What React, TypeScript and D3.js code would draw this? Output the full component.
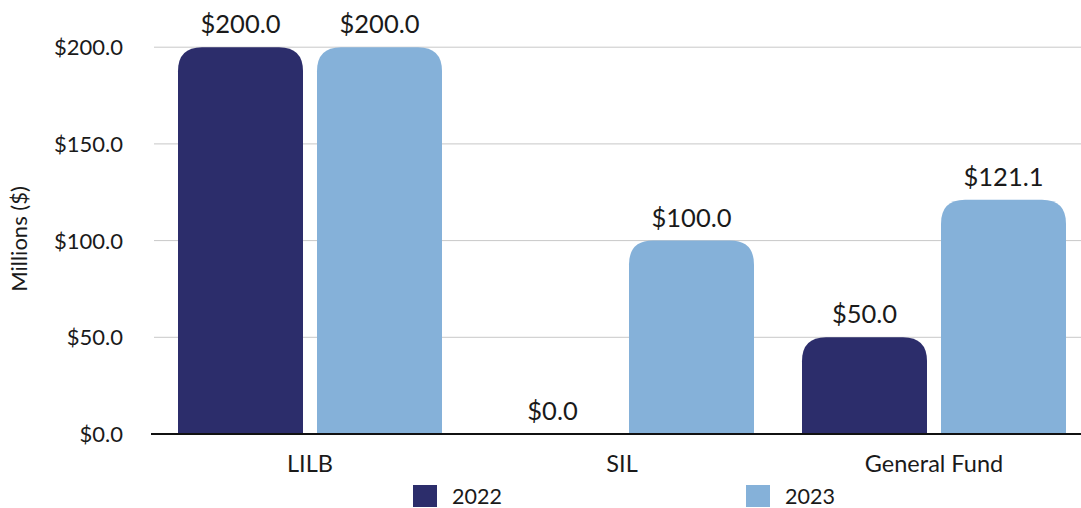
import React from "react";
import * as d3 from "d3";

const categories = ["LILB", "SIL", "General Fund"];
const seriesNames = ["2022", "2023"];
const values2022 = [200.0, 0.0, 50.0];
const values2023 = [200.0, 100.0, 121.1];
const yTicks = [0, 50, 100, 150, 200];
const colors = ["#2c2d6b", "#85b1d9"];

const W = 1081;
const H = 508;
const FONT = "Lato, 'Noto Sans', sans-serif";
const TXT = "#1a1a1a";

export default function App() {
  const y = d3.scaleLinear().domain([0, 200]).range([434, 47.2]);
  const x0 = d3.scaleBand<string>().domain(categories).range([154, 1090]).padding(0);
  const x1 = d3
    .scaleBand<string>()
    .domain(seriesNames)
    .range([24, x0.bandwidth() - 24])
    .paddingInner(14 / 139)
    .paddingOuter(0);
  const series = [values2022, values2023];
  const fmt = (v: number) => "$" + d3.format(".1f")(v);

  const barPath = (x: number, w: number, top: number, bottom: number) => {
    const h = bottom - top;
    if (h <= 0) return "";
    const r = Math.min(24, w / 2, h);
    return `M${x},${bottom}L${x},${top + r}Q${x},${top} ${x + r},${top}L${x + w - r},${top}Q${x + w},${top} ${x + w},${top + r}L${x + w},${bottom}Z`;
  };

  return (
    <div style={{ position: "absolute", left: 0, top: 0, width: W, height: H, background: "#fff" }}>
      <svg width={W} height={H} style={{ display: "block" }} fontFamily={FONT} fontWeight={400}>
        {yTicks.map((t) =>
          t === 0 ? null : (
            <line key={"g" + t} x1={154} x2={W} y1={y(t)} y2={y(t)} stroke="#c8c8c8" strokeWidth={1} />
          )
        )}
        {yTicks.map((t) => (
          <text key={"t" + t} x={123} y={y(t)} dy="0.36em" textAnchor="end" fontSize={22} fill={TXT}>
            {fmt(t)}
          </text>
        ))}
        <text
          transform={`translate(27,${239}) rotate(-90)`}
          textAnchor="middle"
          fontSize={22}
          fill={TXT}
        >
          Millions ($)
        </text>
        {categories.map((c, i) =>
          seriesNames.map((s, j) => {
            const v = series[j][i];
            const bx = (x0(c) as number) + (x1(s) as number);
            const bw = x1.bandwidth();
            return (
              <g key={c + s}>
                <path d={barPath(bx, bw, y(v), y(0))} fill={colors[j]} />
                <text
                  x={bx + bw / 2}
                  y={y(v) - 14}
                  textAnchor="middle"
                  fontSize={25.5}
                  fill={TXT}
                >
                  {fmt(v)}
                </text>
              </g>
            );
          })
        )}
        <line x1={151} x2={W} y1={y(0)} y2={y(0)} stroke="#111" strokeWidth={2} />
        {categories.map((c) => (
          <text
            key={"c" + c}
            x={(x0(c) as number) + x0.bandwidth() / 2}
            y={472}
            textAnchor="middle"
            fontSize={23.5}
            fill={TXT}
          >
            {c}
          </text>
        ))}
        {seriesNames.map((s, j) => {
          const lx = [413, 746][j];
          return (
            <g key={"l" + s}>
              <rect x={lx} y={485} width={24} height={22} fill={colors[j]} />
              <text x={lx + 39} y={504} fontSize={21.5} fill={TXT}>
                {s}
              </text>
            </g>
          );
        })}
      </svg>
    </div>
  );
}
